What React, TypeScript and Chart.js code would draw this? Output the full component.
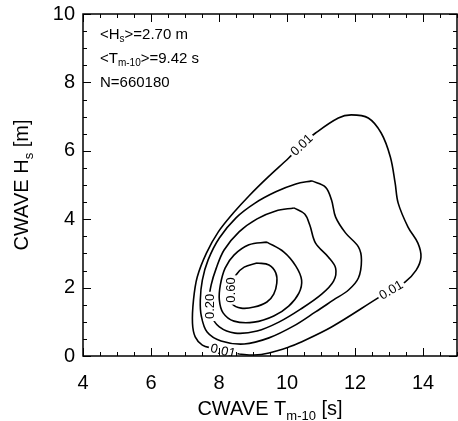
import React, { useEffect, useRef } from "react";
import { Chart, registerables } from "chart.js";

Chart.register(...registerables);

const FONT = "'Liberation Sans', Arial, Helvetica, sans-serif";

// Axis ranges and ticks
const xRange = [4, 15];
const yRange = [0, 10];
const xTickValues = [4, 6, 8, 10, 12, 14];
const yTickValues = [0, 2, 4, 6, 8, 10];
const minorStep = 0.5;

// Contour lines (normalised density): [T_m-10 (s), Hs (m)]
const contourLevels = [0.01, 0.1, 0.2, 0.4, 0.6];

const contour001: [number, number][] = [
  [8.59, 0.06], [7.80, 0.23], [7.51, 0.32], [7.30, 0.56], [7.22, 0.96], [7.25, 1.64],
  [7.36, 2.31], [7.63, 3.01], [7.98, 3.63], [8.42, 4.18], [8.88, 4.68], [9.44, 5.23],
  [10.05, 5.79], [10.43, 6.17], [10.84, 6.52], [11.51, 6.96], [11.89, 7.05], [12.39, 6.96],
  [12.77, 6.52], [13.04, 5.82], [13.18, 5.06], [13.27, 4.47], [13.56, 3.77], [13.85, 3.30],
  [13.94, 2.89], [13.80, 2.51], [13.47, 2.16], [13.06, 1.93], [12.68, 1.70], [11.31, 0.85],
  [10.35, 0.38], [10.05, 0.26], [9.47, 0.09], [9.03, 0.03], [8.59, 0.06],
];

const contour010: [number, number][] = [
  [10.73, 5.12], [11.13, 4.94], [11.31, 4.56], [11.43, 4.06], [11.72, 3.60], [12.10, 3.19],
  [12.19, 2.81], [12.10, 2.28], [11.81, 1.93], [11.37, 1.64], [10.84, 1.29], [10.20, 0.88],
  [9.47, 0.53], [8.74, 0.35], [8.06, 0.44], [7.65, 0.70], [7.48, 1.17], [7.45, 1.64],
  [7.51, 2.22], [7.68, 2.81], [8.01, 3.45], [8.50, 4.04], [9.06, 4.47], [9.67, 4.80],
  [10.26, 5.03], [10.73, 5.12],
];

const contour020: [number, number][] = [
  [10.20, 4.33], [10.52, 4.15], [10.67, 3.83], [10.84, 3.30], [11.22, 2.89], [11.43, 2.57],
  [11.37, 2.19], [11.02, 1.81], [10.40, 1.37], [9.76, 0.99], [9.12, 0.73], [8.47, 0.67],
  [8.01, 0.85], [7.77, 1.20], [7.71, 1.64], [7.77, 2.08], [7.92, 2.57], [8.15, 3.10],
  [8.59, 3.63], [9.12, 4.01], [9.67, 4.24], [10.20, 4.33],
];

const contour040: [number, number][] = [
  [9.41, 3.33], [9.91, 3.04], [10.26, 2.63], [10.43, 2.22], [10.35, 1.84], [10.05, 1.46],
  [9.61, 1.17], [9.03, 0.99], [8.44, 1.02], [8.12, 1.26], [8.01, 1.64], [8.04, 2.08],
  [8.18, 2.57], [8.44, 2.95], [8.88, 3.25], [9.41, 3.33],
];

const contour060: [number, number][] = [
  [9.12, 2.72], [9.47, 2.66], [9.67, 2.43], [9.70, 2.13], [9.61, 1.81], [9.41, 1.58],
  [9.03, 1.43], [8.65, 1.40], [8.39, 1.52], [8.33, 1.78], [8.39, 2.08], [8.50, 2.37],
  [8.74, 2.60], [9.12, 2.72],
];

const contours = [contour001, contour010, contour020, contour040, contour060];

// Contour labels
const labelTexts = ["0.01", "0.01", "0.01", "0.20", "0.60"];
const labelContour = [0, 0, 0, 2, 4];
const labelX = [10.43, 13.06, 8.12, 7.72, 8.35];
const labelY = [6.17, 1.93, 0.15, 1.45, 1.93];

// Statistics text
const meanHs = "2.70";
const meanTm10 = "9.42";
const sampleCount = "660180";

type Part = { t: string; sub?: boolean };

function richWidth(ctx: CanvasRenderingContext2D, parts: Part[], size: number, subSize: number) {
  let w = 0;
  for (const p of parts) {
    ctx.font = `${p.sub ? subSize : size}px ${FONT}`;
    w += ctx.measureText(p.t).width;
  }
  return w;
}

function drawRich(
  ctx: CanvasRenderingContext2D,
  parts: Part[],
  x: number,
  y: number,
  size: number,
  subSize: number,
  subShift: number
) {
  let cx = x;
  ctx.textAlign = "left";
  ctx.textBaseline = "alphabetic";
  for (const p of parts) {
    ctx.font = `${p.sub ? subSize : size}px ${FONT}`;
    ctx.fillText(p.t, cx, p.sub ? y + subShift : y);
    cx += ctx.measureText(p.t).width;
  }
}

const contourLabelPlugin = {
  id: "contourLabels",
  afterDatasetsDraw(chart: any) {
    const { ctx, chartArea } = chart;
    const xs = chart.scales.x;
    const ys = chart.scales.y;
    ctx.save();
    ctx.beginPath();
    ctx.rect(chartArea.left, chartArea.top, chartArea.right - chartArea.left, chartArea.bottom - chartArea.top);
    ctx.clip();
    for (let i = 0; i < labelTexts.length; i++) {
      const pts = contours[labelContour[i]];
      const px = xs.getPixelForValue(labelX[i]);
      const py = ys.getPixelForValue(labelY[i]);
      let best = 0;
      let bd = Infinity;
      for (let k = 0; k < pts.length - 1; k++) {
        const dx = xs.getPixelForValue(pts[k][0]) - px;
        const dy = ys.getPixelForValue(pts[k][1]) - py;
        const d = dx * dx + dy * dy;
        if (d < bd) {
          bd = d;
          best = k;
        }
      }
      const n = pts.length - 1;
      const a = pts[(best - 1 + n) % n];
      const b = pts[(best + 1) % n];
      let ang = Math.atan2(
        ys.getPixelForValue(b[1]) - ys.getPixelForValue(a[1]),
        xs.getPixelForValue(b[0]) - xs.getPixelForValue(a[0])
      );
      if (ang > Math.PI / 2) ang -= Math.PI;
      if (ang < -Math.PI / 2) ang += Math.PI;
      ctx.save();
      ctx.translate(px, py);
      ctx.rotate(ang);
      ctx.font = `13px ${FONT}`;
      const w = ctx.measureText(labelTexts[i]).width;
      ctx.fillStyle = "#fff";
      ctx.fillRect(-w / 2 - 2, -6, w + 4, 12);
      ctx.fillStyle = "#000";
      ctx.textAlign = "center";
      ctx.textBaseline = "middle";
      ctx.fillText(labelTexts[i], 0, 0.5);
      ctx.restore();
    }
    ctx.restore();
  },
};

const framePlugin = {
  id: "frameAndText",
  afterDraw(chart: any) {
    const { ctx, chartArea } = chart;
    const { left, right, top, bottom } = chartArea;
    const xs = chart.scales.x;
    const ys = chart.scales.y;
    ctx.save();
    ctx.strokeStyle = "#000";
    ctx.fillStyle = "#000";
    // ticks
    ctx.lineWidth = 1;
    ctx.beginPath();
    for (let v = xRange[0]; v <= xRange[1] + 1e-9; v += minorStep) {
      const p = Math.round(xs.getPixelForValue(v)) + 0.5;
      const len = Math.abs(v % 2) < 1e-9 ? 8 : 4;
      ctx.moveTo(p, bottom);
      ctx.lineTo(p, bottom - len);
      ctx.moveTo(p, top);
      ctx.lineTo(p, top + len);
    }
    for (let v = yRange[0]; v <= yRange[1] + 1e-9; v += minorStep) {
      const p = Math.round(ys.getPixelForValue(v)) + 0.5;
      const len = Math.abs(v % 2) < 1e-9 ? 8 : 4;
      ctx.moveTo(left, p);
      ctx.lineTo(left + len, p);
      ctx.moveTo(right, p);
      ctx.lineTo(right - len, p);
    }
    ctx.stroke();
    // frame
    ctx.lineWidth = 1.5;
    ctx.strokeRect(left, top, right - left, bottom - top);

    // axis titles
    const xParts: Part[] = [{ t: "CWAVE T" }, { t: "m-10", sub: true }, { t: " [s]" }];
    const xw = richWidth(ctx, xParts, 20, 13);
    drawRich(ctx, xParts, (left + right) / 2 - xw / 2, 415, 20, 13, 5);

    const yParts: Part[] = [{ t: "CWAVE H" }, { t: "s", sub: true }, { t: " [m]" }];
    const yw = richWidth(ctx, yParts, 20, 13);
    ctx.save();
    ctx.translate(28, (top + bottom) / 2);
    ctx.rotate(-Math.PI / 2);
    drawRich(ctx, yParts, -yw / 2, 0, 20, 13, 5);
    ctx.restore();

    // statistics
    const sx = left + 17;
    drawRich(ctx, [{ t: "<H" }, { t: "s", sub: true }, { t: `>=${meanHs} m` }], sx, top + 25, 15, 10, 3);
    drawRich(ctx, [{ t: "<T" }, { t: "m-10", sub: true }, { t: `>=${meanTm10} s` }], sx, top + 49, 15, 10, 3);
    drawRich(ctx, [{ t: `N=${sampleCount}` }], sx, top + 73, 15, 10, 3);
    ctx.restore();
  },
};

export default function App() {
  const canvasRef = useRef<HTMLCanvasElement | null>(null);

  useEffect(() => {
    document.body.style.margin = "0";
    const canvas = canvasRef.current;
    if (!canvas) return;
    const chart = new Chart(canvas, {
      type: "scatter",
      data: {
        datasets: contours.map((pts, i) => ({
          label: String(contourLevels[i]),
          data: pts.map(([x, y]) => ({ x, y })),
          showLine: true,
          borderColor: "#000",
          backgroundColor: "#000",
          borderWidth: 1.6,
          pointRadius: 0,
          pointHoverRadius: 0,
          tension: 0.35,
          fill: false,
        })),
      },
      options: {
        responsive: false,
        animation: false,
        devicePixelRatio: 1,
        layout: { padding: { top: 14, right: 1, left: 0, bottom: 0 } },
        plugins: { legend: { display: false }, tooltip: { enabled: false } },
        scales: {
          x: {
            type: "linear",
            min: xRange[0],
            max: xRange[1],
            afterFit: (s: any) => {
              s.height = 65;
              s.paddingLeft = 0;
              s.paddingRight = 0;
            },
            afterBuildTicks: (s: any) => {
              s.ticks = xTickValues.map((v) => ({ value: v }));
            },
            grid: { display: false, drawTicks: false },
            border: { display: false },
            ticks: {
              color: "#000",
              font: { size: 20, family: FONT },
              padding: 15,
              maxRotation: 0,
              autoSkip: false,
            },
          },
          y: {
            type: "linear",
            min: yRange[0],
            max: yRange[1],
            afterFit: (s: any) => {
              s.width = 83;
              s.paddingTop = 0;
              s.paddingBottom = 0;
            },
            afterBuildTicks: (s: any) => {
              s.ticks = yTickValues.map((v) => ({ value: v }));
            },
            grid: { display: false, drawTicks: false },
            border: { display: false },
            ticks: {
              color: "#000",
              font: { size: 20, family: FONT },
              padding: 8,
              autoSkip: false,
            },
          },
        },
      },
      plugins: [contourLabelPlugin, framePlugin],
    } as any);
    return () => chart.destroy();
  }, []);

  return (
    <div style={{ width: 458, height: 421, background: "#fff" }}>
      <canvas ref={canvasRef} width={458} height={421} style={{ display: "block" }} />
    </div>
  );
}
